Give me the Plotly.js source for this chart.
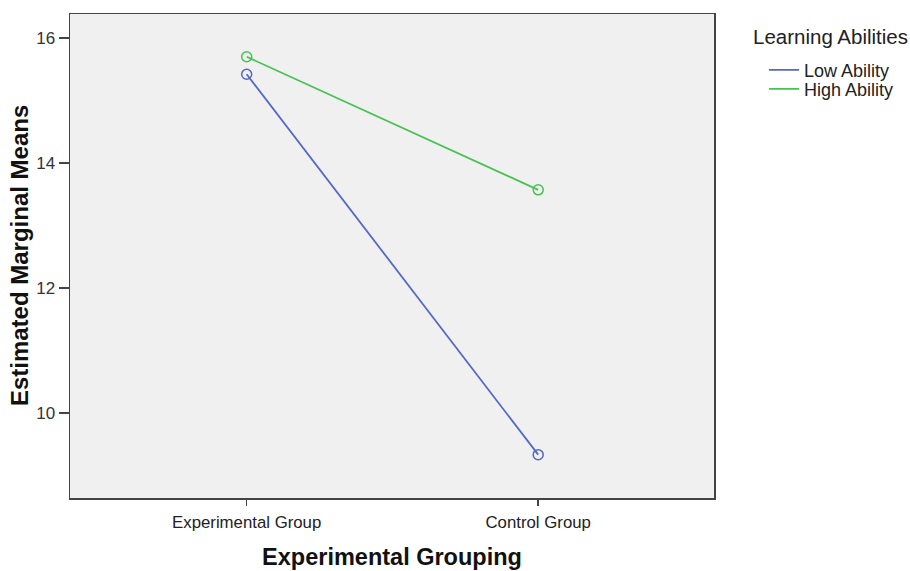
<!DOCTYPE html>
<html><head><meta charset="utf-8">
<script src="https://cdn.plot.ly/plotly-3.0.1.min.js"></script>
<style>html,body{margin:0;padding:0;background:#fff}#chart{width:910px;height:571px}</style>
</head><body><div id="chart"></div>
<script>
const groups = ["Experimental Group", "Control Group"];
const lowAbility = [15.42, 9.33];
const highAbility = [15.70, 13.57];
const seriesNames = ["Low Ability", "High Ability"];
const legendTitle = "Learning Abilities";
const xTitle = "Experimental Grouping";
const yTitle = "Estimated Marginal Means";
const yTicks = [10, 12, 14, 16];

const blue = "#5468c4";
const green = "#45c24f";

function lineTrace(y, name, color, legendId) {
  return {x: groups, y: y, name: name, type: "scatter", mode: "lines", legend: legendId,
    line: {color: color, width: 1.8}};
}
function markerTrace(y, name, color) {
  return {x: groups, y: y, name: name, type: "scatter", mode: "markers", showlegend: false,
    marker: {symbol: "circle-open", size: 10, color: color, line: {width: 1.5}}};
}

const traces = [
  lineTrace(lowAbility, seriesNames[0], blue, "legend"),
  lineTrace(highAbility, seriesNames[1], green, "legend2"),
  markerTrace(lowAbility, seriesNames[0], blue),
  markerTrace(highAbility, seriesNames[1], green)
];

const legendCommon = {
  xanchor: "left", yanchor: "middle",
  font: {size: 18, color: "#222"},
  itemwidth: 30, bgcolor: "rgba(0,0,0,0)"
};

const layout = {
  width: 910, height: 571,
  margin: {l: 70, r: 195, t: 14, b: 73},
  paper_bgcolor: "#ffffff",
  plot_bgcolor: "#f0f0f0",
  font: {family: "Liberation Sans, Arial, sans-serif", color: "#222"},
  showlegend: true,
  legend: Object.assign({x: 1.076, y: 0.8841}, legendCommon),
  legend2: Object.assign({x: 1.076, y: 0.8447}, legendCommon),
  annotations: [
    {text: legendTitle, xref: "paper", yref: "paper", x: 1.0574, y: 0.9544,
     xanchor: "left", yanchor: "middle", showarrow: false,
     font: {size: 20.5, color: "#222"}},
    {text: "<b>" + yTitle + "</b>", xref: "paper", yref: "paper", x: -0.079, y: 0.5,
     xanchor: "center", yanchor: "middle", textangle: -90, showarrow: false,
     font: {size: 24, color: "#111"}}
  ],
  xaxis: {
    type: "category", range: [-0.606, 1.603],
    showline: true, linecolor: "#444", linewidth: 1.5, mirror: true,
    ticks: "outside", ticklen: 6, tickcolor: "#444", tickwidth: 1.5,
    ticklabelstandoff: 2,
    tickfont: {size: 16.8, color: "#222"},
    showgrid: false, zeroline: false,
    title: {text: "<b>" + xTitle + "</b>", font: {size: 23.5, color: "#111"}, standoff: 18}
  },
  yaxis: {
    range: [8.636, 16.385],
    tickvals: yTicks,
    showline: true, linecolor: "#444", linewidth: 1.5, mirror: true,
    ticks: "outside", ticklen: 10, tickcolor: "#444", tickwidth: 1.5,
    tickfont: {size: 17, color: "#333"},
    showgrid: false, zeroline: false
  }
};

Plotly.newPlot("chart", traces, layout, {displayModeBar: false, staticPlot: true});
</script></body></html>
